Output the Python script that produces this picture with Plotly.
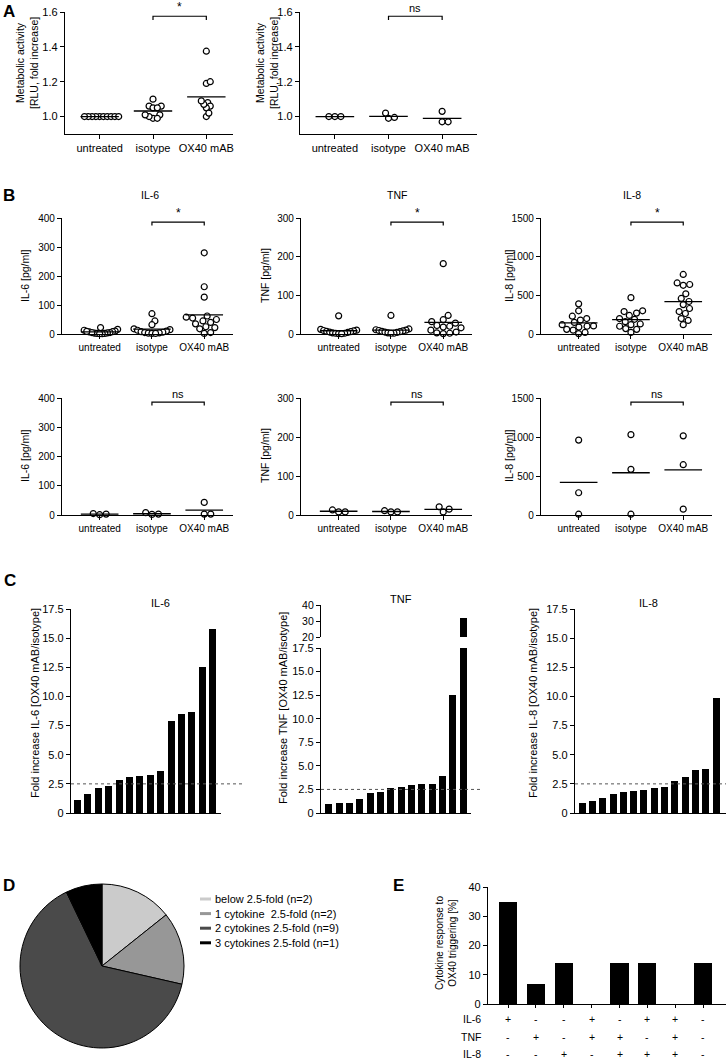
import numpy as np
import plotly.graph_objects as go

W, H = 726, 1060
FONT = "Liberation Sans, Arial, sans-serif"

groups = ["untreated", "isotype", "OX40 mAB"]

# A - metabolic activity (fold increase)
a_left_untreated = [1.00, 1.00, 1.00, 1.00, 1.00, 1.00, 1.00, 1.00, 1.00, 1.00]
a_left_isotype = [1.10, 1.06, 1.05, 1.06, 1.05, 1.01, 0.99, 0.99, 1.00, 1.01]
a_left_ox40 = [1.375, 1.19, 1.20, 1.08, 1.06, 1.05, 1.07, 1.09, 1.00, 1.02]
a_right_untreated = [1.00, 1.00, 1.00]
a_right_isotype = [1.02, 0.99, 0.995]
a_right_ox40 = [1.03, 0.97, 0.97]

# B - cytokines, pg/ml (top row: fibroblasts, bottom row: controls)
il6_untreated = [22, 16, 13, 10, 8, 7, 5, 4, 3, 2, 2, 1, 1, 5, 9]
il6_isotype = [70, 45, 32, 18, 15, 13, 10, 8, 6, 5, 4, 3, 2, 2]
il6_ox40 = [280, 163, 127, 62, 58, 55, 50, 45, 40, 35, 25, 22, 18, 5, 2]
tnf_untreated = [47, 12, 10, 9, 8, 7, 6, 5, 4, 3, 2, 2, 1, 1]
tnf_isotype = [48, 13, 11, 10, 9, 8, 7, 6, 5, 4, 3, 2, 2]
tnf_ox40 = [182, 48, 37, 32, 28, 22, 20, 18, 16, 10, 5, 3, 2, 1]
il8_untreated = [390, 300, 230, 200, 180, 150, 120, 105, 100, 90, 60, 50, 20, 5]
il8_isotype = [470, 300, 290, 270, 240, 200, 190, 160, 130, 120, 100, 70, 60, 20]
il8_ox40 = [770, 660, 640, 630, 520, 460, 420, 380, 330, 290, 265, 200, 175, 120]

il6_ctrl_untreated = [5, 1, 3]
il6_ctrl_isotype = [8, 2, 3]
il6_ctrl_ox40 = [43, 3, 3]
tnf_ctrl_untreated = [13, 8, 8]
tnf_ctrl_isotype = [11, 8, 8]
tnf_ctrl_ox40 = [21, 8, 15]
il8_ctrl_untreated = [960, 285, 10]
il8_ctrl_isotype = [1030, 585, 10]
il8_ctrl_ox40 = [1015, 645, 75]

# C - fold increase OX40 mAB / isotype
il6_fold = [1.1, 1.65, 2.15, 2.3, 2.8, 3.1, 3.15, 3.3, 3.6, 7.9, 8.5, 8.7, 12.55, 15.8]
tnf_fold = [0.95, 1.05, 1.1, 1.5, 2.1, 2.25, 2.7, 2.75, 3.0, 3.05, 3.1, 3.9, 12.5, 32.0]
il8_fold = [0.9, 1.05, 1.3, 1.65, 1.8, 1.9, 2.0, 2.15, 2.25, 2.75, 3.05, 3.65, 3.8, 9.9]
threshold = 2.5

# D - number of responding cytokines
pie_labels = ["below 2.5-fold (n=2)", "1 cytokine  2.5-fold (n=2)",
              "2 cytokines 2.5-fold (n=9)", "3 cytokines 2.5-fold (n=1)"]
pie_values = [2, 2, 9, 1]
pie_colors = ["#cbcbcb", "#979797", "#4a4a4a", "#000000"]

# E - response pattern
e_values = [35, 7, 14, 0, 14, 14, 0, 14]
e_il6 = ["+", "-", "-", "+", "-", "+", "+", "-"]
e_tnf = ["-", "+", "-", "+", "+", "-", "+", "-"]
e_il8 = ["-", "-", "+", "-", "+", "+", "+", "-"]

fig = go.Figure()
layout = {}
annotations = []
shapes = []


def dom_x(a, b):
    return [a / W, b / W]


def dom_y(top, bottom):
    return [1 - bottom / H, 1 - top / H]


def add_axes(n, xpx, ypx, xrange, yrange, ytickvals, yticktext=None,
             xtickvals=None, xticktext=None, xticks=True, fs=11, xvisible=True):
    base = dict(showline=True, linecolor="black", linewidth=1.3, showgrid=False,
                zeroline=False, ticklen=4, tickwidth=1.2, tickcolor="black",
                tickfont=dict(size=fs, color="black"), automargin=False)
    sfx = "" if n == 1 else str(n)
    xa = dict(base, domain=dom_x(*xpx), range=xrange, anchor="y" + sfx,
              ticks="outside" if xticks else "",
              tickvals=xtickvals if xtickvals is not None else [],
              ticktext=xticktext, visible=xvisible)
    ya = dict(base, domain=dom_y(*ypx), range=yrange, anchor="x" + sfx,
              ticks="outside", tickvals=ytickvals, ticktext=yticktext)
    layout["xaxis" + sfx] = xa
    layout["yaxis" + sfx] = ya


def swarm(vals, d, xs, ys, max_half):
    ypx = np.asarray(vals, float) * ys
    placed = []
    off = np.zeros(len(ypx))
    for i in np.argsort(ypx):
        y = ypx[i]
        cands = [0.0]
        for px, py in placed:
            dy = abs(py - y)
            if dy < d:
                dx = np.sqrt(d * d - dy * dy)
                cands += [px + dx, px - dx]
        cands.sort(key=abs)
        for c in cands:
            if all((c - px) ** 2 + (y - py) ** 2 >= d * d - 1e-6 for px, py in placed):
                break
        placed.append((c, y))
        off[i] = c
    if len(off) and np.abs(off).max() > max_half:
        off *= max_half / np.abs(off).max()
    return off / xs


def scatter_panel(n, xpx, ypx, xrange, yrange, series, ytickvals, yticktext,
                  sig, fs, d=6.0, max_half=18, half=0.33):
    add_axes(n, xpx, ypx, xrange, yrange, ytickvals, yticktext,
             xtickvals=[0, 1, 2], xticktext=groups, fs=fs)
    sfx = "" if n == 1 else str(n)
    xs = (xpx[1] - xpx[0]) / (xrange[1] - xrange[0])
    ys = (ypx[1] - ypx[0]) / (yrange[1] - yrange[0])
    xs_all, ys_all, lx, ly = [], [], [], []
    for i, vals in enumerate(series):
        off = swarm(vals, d, xs, ys, max_half)
        xs_all += list(i + off)
        ys_all += list(vals)
        m = float(np.mean(vals))
        lx += [i - half, i + half, None]
        ly += [m, m, None]
    fig.add_trace(go.Scatter(x=xs_all, y=ys_all, mode="markers", xaxis="x" + sfx,
                             yaxis="y" + sfx, cliponaxis=False,
                             marker=dict(symbol="circle", size=6, color="white",
                                         line=dict(color="black", width=1.2))))
    fig.add_trace(go.Scatter(x=lx, y=ly, mode="lines", xaxis="x" + sfx, yaxis="y" + sfx,
                             line=dict(color="black", width=1.3), cliponaxis=False))
    # significance bracket isotype vs OX40 mAB
    span = yrange[1] - yrange[0]
    yb = yrange[1] - span * 0.035
    ye = yb - span * 0.03
    shapes.append(dict(type="path", xref="x" + sfx, yref="y" + sfx,
                       path=f"M 1,{ye} L 1,{yb} L 2,{yb} L 2,{ye}",
                       line=dict(color="black", width=1.2)))
    annotations.append(dict(x=1.5, y=yb, xref="x" + sfx, yref="y" + sfx, text=sig,
                            showarrow=False, xanchor="center", yanchor="bottom",
                            font=dict(size=12 if sig == "*" else 11)))


def ytitle(text, x, y, size=11):
    annotations.append(dict(x=x / W, y=1 - y / H, xref="paper", yref="paper", text=text,
                            textangle=-90, showarrow=False, xanchor="center",
                            yanchor="middle", font=dict(size=size)))


def label(text, x, y, size=11, bold=False, xanchor="center"):
    annotations.append(dict(x=x / W, y=1 - y / H, xref="paper", yref="paper",
                            text=f"<b>{text}</b>" if bold else text, showarrow=False,
                            xanchor=xanchor, yanchor="middle", font=dict(size=size)))


# ---------- A ----------
a_ticks = [1.0, 1.2, 1.4, 1.6]
a_text = ["1.0", "1.2", "1.4", "1.6"]
scatter_panel(1, (65, 233), (12, 134), [-0.65, 2.5], [0.9, 1.6],
              [a_left_untreated, a_left_isotype, a_left_ox40], a_ticks, a_text, "*", 11,
              d=4.3, max_half=19, half=0.36)
scatter_panel(2, (300, 477), (12, 134), [-0.65, 2.65], [0.9, 1.6],
              [a_right_untreated, a_right_isotype, a_right_ox40], a_ticks, a_text, "ns", 11,
              d=6, max_half=19, half=0.36)
ytitle("Metabolic activity<br>[RLU, fold increase]", 27, 63, 10.5)
ytitle("Metabolic activity<br>[RLU, fold increase]", 267, 63, 10.5)
label("A", 9, 12, 17, True)

# ---------- B ----------
b_x = [(62, 233), (301, 472), (541, 712)]
b_top = (218, 334)
b_bot = (398, 515)
b_rng = [-0.72, 2.55]
b_y = [[0, 400], [0, 300], [0, 1500]]
b_ticks = [[0, 100, 200, 300, 400], [0, 100, 200, 300], [0, 500, 1000, 1500]]
b_titles = ["IL-6 [pg/ml]", "TNF [pg/ml]", "IL-8 [pg/ml]"]
b_title_x = [25, 265, 509]
top_series = [[il6_untreated, il6_isotype, il6_ox40],
              [tnf_untreated, tnf_isotype, tnf_ox40],
              [il8_untreated, il8_isotype, il8_ox40]]
bot_series = [[il6_ctrl_untreated, il6_ctrl_isotype, il6_ctrl_ox40],
              [tnf_ctrl_untreated, tnf_ctrl_isotype, tnf_ctrl_ox40],
              [il8_ctrl_untreated, il8_ctrl_isotype, il8_ctrl_ox40]]
for k in range(3):
    scatter_panel(3 + k, b_x[k], b_top, b_rng, b_y[k], top_series[k], b_ticks[k],
                  [str(t) for t in b_ticks[k]], "*", 10, d=6.5, max_half=18, half=0.36)
    scatter_panel(6 + k, b_x[k], b_bot, b_rng, b_y[k], bot_series[k], b_ticks[k],
                  [str(t) for t in b_ticks[k]], "ns", 10, d=6.5, max_half=18, half=0.36)
    ytitle(b_titles[k], b_title_x[k], 276, 10.5)
    ytitle(b_titles[k], b_title_x[k], 456, 10.5)
label("IL-6", 150, 195, 10.5)
label("TNF", 397, 195, 10.5)
label("IL-8", 632, 195, 10.5)
label("B", 9, 195, 17, True)

# ---------- C ----------
c_ticks = [0, 2.5, 5, 7.5, 10, 12.5, 15, 17.5]
c_text = ["0", "2.5", "5.0", "7.5", "10.0", "12.5", "15.0", "17.5"]
bar_x = list(range(len(il6_fold)))


def fold_bars(n, vals):
    sfx = str(n)
    fig.add_trace(go.Bar(x=bar_x, y=vals, xaxis="x" + sfx, yaxis="y" + sfx, width=0.68,
                         marker=dict(color="black", line=dict(width=0))))


add_axes(9, (71, 221), (609, 813), [-0.625, 13.8], [0, 17.5], c_ticks, c_text, xticks=False)
fold_bars(9, il6_fold)
add_axes(10, (321, 471), (648, 813), [-0.75, 13.77], [0, 17.5], c_ticks, c_text, xticks=False)
fold_bars(10, tnf_fold)
# upper part of the broken TNF axis
add_axes(11, (321, 471), (605, 637), [-0.75, 13.77], [20, 40], [20, 30, 40], ["20", "30", "40"],
         xticks=False, xvisible=False, fs=10.5)
layout["yaxis11"]["anchor"] = "x11"
fold_bars(11, tnf_fold)
add_axes(12, (575, 726), (609, 813), [-0.7, 13.97], [0, 17.5], c_ticks, c_text, xticks=False)
fold_bars(12, il8_fold)

for n, x1 in [(9, 1.16), (10, 1.06), (12, 1.0)]:
    shapes.append(dict(type="line", xref=f"x{n} domain", yref=f"y{n}", x0=0, x1=x1,
                       y0=threshold, y1=threshold,
                       line=dict(color="#555555", width=1, dash="dot")))

ytitle("Fold increase IL-6 [OX40 mAB/isotype]", 35, 703, 11)
ytitle("Fold increase TNF [OX40 mAB/isotype]", 283, 708, 11)
ytitle("Fold increase IL-8 [OX40 mAB/isotype]", 533, 703, 11)
label("IL-6", 160, 603, 11)
label("TNF", 401, 599, 11)
label("IL-8", 648, 603, 11)
label("C", 10, 580, 17, True)

# ---------- D ----------
fig.add_trace(go.Pie(labels=pie_labels, values=pie_values, sort=False, direction="clockwise",
                     rotation=0, textinfo="none", hoverinfo="skip",
                     marker=dict(colors=pie_colors, line=dict(color="black", width=1)),
                     domain=dict(x=dom_x(20, 184), y=dom_y(884, 1048))))
for i, (lab, col) in enumerate(zip(pie_labels, pie_colors)):
    yy = 899 + i * 14.6
    shapes.append(dict(type="line", xref="paper", yref="paper", x0=200 / W, x1=211 / W,
                       y0=1 - yy / H, y1=1 - yy / H, line=dict(color=col, width=3)))
    label(lab, 213, yy, 11, xanchor="left")
label("D", 9, 885, 17, True)

# ---------- E ----------
e_x = list(range(len(e_values)))
add_axes(13, (488, 726), (887, 1004), [-0.72, 7.82], [0, 40], [0, 10, 20, 30, 40],
         ["0", "10", "20", "30", "40"], xtickvals=e_x, xticktext=["" for _ in e_x])
layout["xaxis13"]["ticklen"] = 3
fig.add_trace(go.Bar(x=e_x, y=e_values, xaxis="x13", yaxis="y13", width=0.65,
                     marker=dict(color="black", line=dict(width=0))))
for name, row, yy in [("IL-6", e_il6, 1019), ("TNF", e_tnf, 1037), ("IL-8", e_il8, 1054)]:
    label(name, 483, yy, 10.5, xanchor="right")
    for i, s in enumerate(row):
        annotations.append(dict(x=i, y=1 - yy / H, xref="x13", yref="paper", text=s,
                                showarrow=False, xanchor="center", yanchor="middle",
                                font=dict(size=10.5)))
ytitle("Cytokine response to<br>OX40 triggering [%]", 446, 943, 10)
label("E", 399, 885, 17, True)

fig.update_layout(
    width=W, height=H, margin=dict(l=0, r=0, t=0, b=0),
    paper_bgcolor="white", plot_bgcolor="white", showlegend=False,
    font=dict(family=FONT, size=11, color="black"),
    annotations=annotations, shapes=shapes, bargap=0,
    **layout,
)

# drop the default page margin so the figure sits at the window's corner
fig.write_html("out.html", config={"displayModeBar": False},
               post_script="document.body.style.margin='0px';")
